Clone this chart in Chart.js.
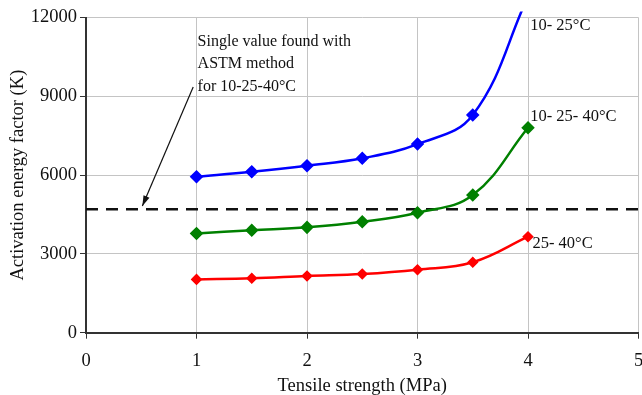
<!DOCTYPE html>
<html lang="en">

<head>
    <meta charset="UTF-8">
    <title>Activation energy factor</title>
    <script src="https://cdn.jsdelivr.net/npm/chart.js"></script>
    <style>
        html, body { margin: 0; padding: 0; background: #fff; overflow: hidden; }
        /* a little wider than the window so the plot reaches the right edge like the original */
        #wrap { width: 646px; height: 395px; position: relative; }
    </style>
</head>

<body>
    <div id="wrap">
        <canvas id="energyChart"></canvas>
    </div>
    <script>
        // Data
        const strength = [1, 1.5, 2, 2.5, 3, 3.5, 4];
        const series10_25 = [5940, 6130, 6360, 6640, 7180, 8290, 12800];
        const series10_25_40 = [3780, 3900, 4010, 4220, 4570, 5240, 7800];
        const series25_40 = [2030, 2070, 2160, 2235, 2400, 2680, 3655];
        const astmValue = 4700;
        const astmRange = [0, 5];
        const xTicks = [0, 1, 2, 3, 4, 5];
        const yTicks = [0, 3000, 6000, 9000, 12000];

        const serif = 'Liberation Serif, "Times New Roman", serif';

        function toPoints(xs, ys) {
            return xs.map((x, i) => ({ x: x, y: ys[i] }));
        }

        // labels and arrow drawn on top, anchored in data coordinates
        const notes = {
            id: 'notes',
            afterDatasetsDraw(chart) {
                const { ctx, scales: { x, y } } = chart;
                ctx.save();
                ctx.fillStyle = '#111';
                ctx.font = '16px ' + serif;
                ctx.textBaseline = 'middle';
                ctx.textAlign = 'left';

                const lines = ['Single value found with', 'ASTM method', 'for 10-25-40\u00B0C'];
                const x0 = x.getPixelForValue(1.01);
                const y0 = y.getPixelForValue(11080);
                lines.forEach((t, i) => ctx.fillText(t, x0, y0 + i * 22.5));

                ctx.font = '16.5px ' + serif;
                ctx.fillText('10- 25\u00B0C', x.getPixelForValue(4.02), y.getPixelForValue(11670));
                ctx.fillText('10- 25- 40\u00B0C', x.getPixelForValue(4.02), y.getPixelForValue(8220));
                ctx.fillText('25- 40\u00B0C', x.getPixelForValue(4.04), y.getPixelForValue(3380));

                // arrow to the dashed line
                const ax1 = x.getPixelForValue(0.97), ay1 = y.getPixelForValue(9350);
                const ax2 = x.getPixelForValue(0.51), ay2 = y.getPixelForValue(4820);
                const ang = Math.atan2(ay2 - ay1, ax2 - ax1);
                ctx.strokeStyle = '#111';
                ctx.lineWidth = 1.2;
                ctx.beginPath();
                ctx.moveTo(ax1, ay1);
                ctx.lineTo(ax2, ay2);
                ctx.stroke();
                ctx.beginPath();
                ctx.moveTo(ax2, ay2);
                ctx.lineTo(ax2 - 11 * Math.cos(ang - 0.3), ay2 - 11 * Math.sin(ang - 0.3));
                ctx.lineTo(ax2 - 11 * Math.cos(ang + 0.3), ay2 - 11 * Math.sin(ang + 0.3));
                ctx.closePath();
                ctx.fillStyle = '#111';
                ctx.fill();
                ctx.restore();
            }
        };

        const chart = new Chart(document.getElementById('energyChart'), {
            type: 'line',
            data: {
                datasets: [{
                    label: '10-25\u00B0C',
                    data: toPoints(strength, series10_25),
                    borderColor: '#0000ff',
                    backgroundColor: '#0000ff',
                    borderWidth: 2.5,
                    pointStyle: 'rectRot',
                    pointRadius: [5, 5, 5, 5, 5, 5, 0],
                    tension: 0.4,
                    clip: { left: 5, top: 6, right: 5, bottom: 5 },
                }, {
                    label: '10-25-40\u00B0C',
                    data: toPoints(strength, series10_25_40),
                    borderColor: '#008000',
                    backgroundColor: '#008000',
                    borderWidth: 2.5,
                    pointStyle: 'rectRot',
                    pointRadius: 5,
                    tension: 0.4,
                }, {
                    label: '25-40\u00B0C',
                    data: toPoints(strength, series25_40),
                    borderColor: '#ff0000',
                    backgroundColor: '#ff0000',
                    borderWidth: 2.5,
                    pointStyle: 'rectRot',
                    pointRadius: 4,
                    tension: 0.4,
                }, {
                    label: 'ASTM',
                    data: astmRange.map(v => ({ x: v, y: astmValue })),
                    borderColor: '#111',
                    borderWidth: 2.5,
                    borderDash: [12, 8],
                    pointRadius: 0,
                }],
            },
            options: {
                responsive: true,
                maintainAspectRatio: false,
                animation: false,
                layout: {
                    padding: { top: 17.5, right: 0, left: 0, bottom: 0 },
                },
                plugins: {
                    legend: { display: false },
                    tooltip: { enabled: false },
                },
                scales: {
                    x: {
                        type: 'linear',
                        min: 0,
                        max: 5,
                        afterBuildTicks: s => { s.ticks = xTicks.map(v => ({ value: v })); },
                        afterFit: s => {
                            s.height = 62.3;
                            s.paddingLeft = 0;
                            s.paddingRight = 0;
                        },
                        ticks: {
                            color: '#111',
                            padding: 11,
                            font: { family: serif, size: 18.5 },
                            callback: v => String(v),
                        },
                        grid: {
                            color: '#c4c4c4',
                            lineWidth: 1,
                            tickColor: '#333',
                            tickLength: 6,
                        },
                        border: { color: '#333', width: 2 },
                        title: {
                            display: true,
                            text: 'Tensile strength (MPa)',
                            color: '#111',
                            font: { family: serif, size: 18.5, lineHeight: 1 },
                            padding: 0,
                        },
                    },
                    y: {
                        min: 0,
                        max: 12000,
                        afterBuildTicks: s => { s.ticks = yTicks.map(v => ({ value: v })); },
                        afterFit: s => { s.width = 86; },
                        ticks: {
                            color: '#111',
                            padding: 3,
                            font: { family: serif, size: 18.5 },
                            callback: v => String(v),
                        },
                        grid: {
                            color: '#c4c4c4',
                            lineWidth: 1,
                            tickColor: '#333',
                            tickLength: 6,
                        },
                        border: { color: '#333', width: 2 },
                        title: {
                            display: true,
                            text: 'Activation energy factor (K)',
                            color: '#111',
                            font: { family: serif, size: 18.5, lineHeight: 1 },
                            padding: { top: 9, bottom: 0 },
                        },
                    },
                },
            },
            plugins: [notes],
        });
    </script>
</body>
</html>
